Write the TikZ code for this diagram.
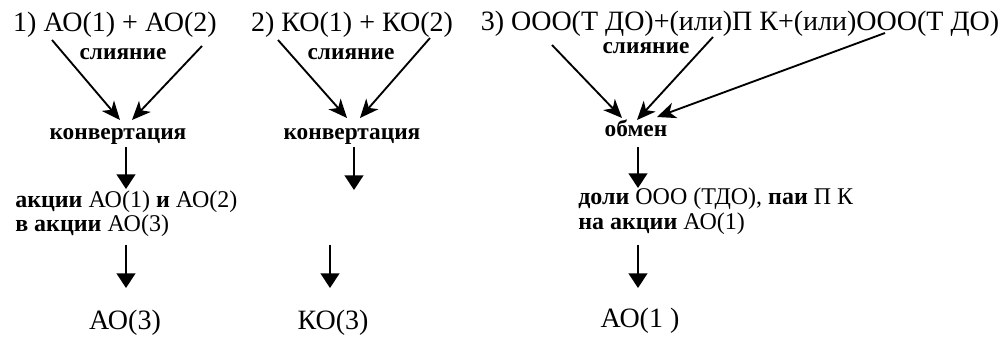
\documentclass[tikz,border=0pt]{standalone}
\usepackage{fontspec}
\setmainfont{Liberation Serif}
\usetikzlibrary{arrows.meta}
\begin{document}
\begin{tikzpicture}[x=0.75pt,y=-0.75pt,
 ttl/.style={font=\fontsize{21}{24}\selectfont, inner sep=0pt, anchor=base},
 lbl/.style={font=\bfseries\fontsize{17.5}{20}\selectfont, inner sep=0pt, anchor=base},
 txt/.style={font=\fontsize{18}{21}\selectfont, inner sep=0pt, anchor=base west},
 darr/.style={line width=1.4pt, -{Stealth[length=14pt,width=12pt,inset=4pt]}},
 varr/.style={line width=1.8pt, -{Triangle[length=11pt,width=14pt]}},
]
\useasboundingbox (0,0) rectangle (1008,338);
% titles
\node[ttl] (t1) at (115,32) {1) АО(1) + АО(2)};
\node[ttl] (t2) at (352,32) {2) КО(1) + КО(2)};
\node[ttl] (t3) at (740,31) {3) ООО(Т ДО)+(или)П К+(или)ООО(Т ДО)};
% labels
\node[lbl] (m1) at (123,60) {слияние};
\node[lbl] (m2) at (351,60) {слияние};
\node[lbl] (m3) at (646,54) {слияние};
\node[lbl] (c1) at (118,140) {конвертация};
\node[lbl] (c2) at (352,140) {конвертация};
\node[lbl] (c3) at (636,137) {обмен};
% texts
\node[txt] (a1) at (15,208) {\textbf{акции} АО(1) \textbf{и} АО(2)};
\node[txt] (a2) at (15,232) {\textbf{в акции} АО(3)};
\node[txt] (d1) at (578,205) {\textbf{доли} ООО (ТДО), \textbf{паи} П К};
\node[txt] (d2) at (578,230) {\textbf{на акции} АО(1)};
% results
\node[ttl] (r1) at (125,330) {АО(3)};
\node[ttl] (r2) at (333,330) {КО(3)};
\node[ttl] (r3) at (640,328) {АО(1 )};
% connector ends
\coordinate (s1a) at (52,40);   \coordinate (e1a) at (120,120);
\coordinate (s1b) at (202,46);  \coordinate (e1b) at (132,120);
\coordinate (s1c) at (126,147); \coordinate (e1c) at (126,189);
\coordinate (s1d) at (126,245); \coordinate (e1d) at (126,288);
\coordinate (s2a) at (278,40);  \coordinate (e2a) at (347,118);
\coordinate (s2b) at (430,38);  \coordinate (e2b) at (360,118);
\coordinate (s2c) at (354,147); \coordinate (e2c) at (354,190);
\coordinate (s2d) at (330,245); \coordinate (e2d) at (330,288);
\coordinate (s3a) at (552,45);  \coordinate (e3a) at (622,118);
\coordinate (s3b) at (713,37);  \coordinate (e3b) at (637,120);
\coordinate (s3c) at (885,33);  \coordinate (e3c) at (657,117);
\coordinate (s3d) at (638,147); \coordinate (e3d) at (638,188);
\coordinate (s3e) at (638,245); \coordinate (e3e) at (638,288);
\draw[darr] (s1a) -- (e1a);
\draw[darr] (s1b) -- (e1b);
\draw[varr] (s1c) -- (e1c);
\draw[varr] (s1d) -- (e1d);
\draw[darr] (s2a) -- (e2a);
\draw[darr] (s2b) -- (e2b);
\draw[varr] (s2c) -- (e2c);
\draw[varr] (s2d) -- (e2d);
\draw[darr] (s3a) -- (e3a);
\draw[darr] (s3b) -- (e3b);
\draw[darr] (s3c) -- (e3c);
\draw[varr] (s3d) -- (e3d);
\draw[varr] (s3e) -- (e3e);
\end{tikzpicture}
\end{document}
